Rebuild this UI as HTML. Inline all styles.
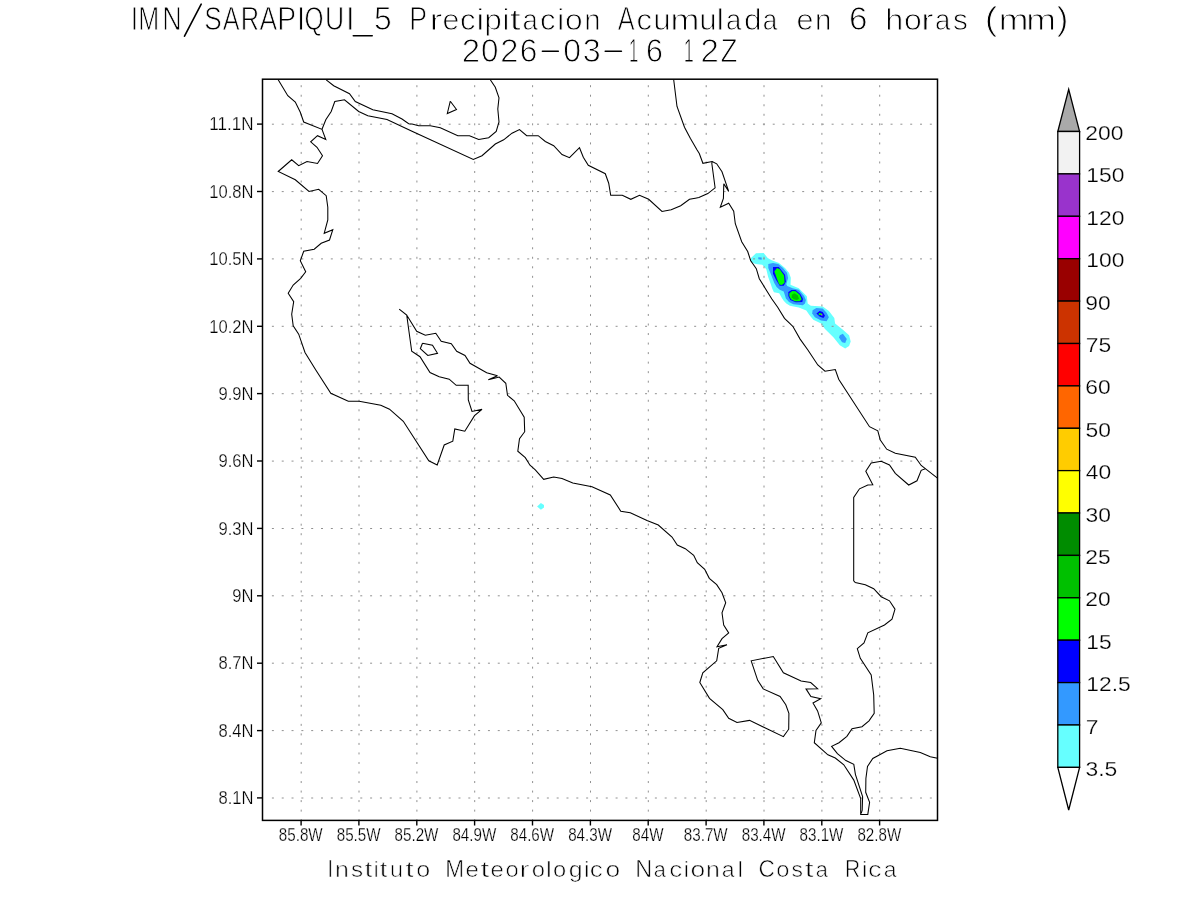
<!DOCTYPE html>
<html><head><meta charset="utf-8"><title>IMN SARAPIQUI</title>
<style>html,body{margin:0;padding:0;background:#fff;overflow:hidden}svg{display:block;will-change:transform}</style>
</head><body>
<svg width="1200" height="900" viewBox="0 0 1200 900">
<rect width="1200" height="900" fill="#fff"/>
<g stroke="none">
<polygon points="751.0,258.0 756.0,253.3 763.7,253.0 767.7,258.0 771.7,260.3 779.0,263.0 785.0,268.0 789.0,272.7 790.8,277.7 790.5,284.8 793.4,286.1 798.8,288.3 806.8,296.3 807.7,303.4 810.8,305.7 815.0,306.1 822.7,306.4 828.9,311.1 834.3,318.1 835.1,323.6 842.9,329.8 849.1,335.2 850.7,341.4 849.1,346.1 845.2,348.4 839.8,345.3 833.6,337.6 825.0,329.0 821.1,323.6 813.3,319.7 809.4,315.0 806.3,310.6 798.8,307.4 789.9,305.7 786.3,303.4 783.7,300.8 781.9,298.1 779.2,293.2 773.9,292.3 772.1,288.3 770.8,284.3 768.1,276.8 766.3,269.3 762.3,264.7 755.7,264.0 751.0,262.0" fill="#66ffff"/>
<polygon points="537.1,506.4 540.9,503.1 544.0,505.0 544.0,507.5 540.9,509.8" fill="#66ffff"/>
<polygon points="768.3,264.0 773.0,263.0 778.3,264.0 783.0,268.0 787.0,272.7 788.1,278.1 786.3,284.3 787.2,286.1 792.6,288.3 798.8,289.7 804.1,295.9 805.9,299.9 805.0,303.4 802.8,305.2 793.4,304.3 789.0,302.1 785.9,298.6 785.0,295.4 783.7,291.4 779.7,289.7 776.6,287.0 774.3,283.0 771.2,275.0 768.3,268.0" fill="#3399ff"/>
<polygon points="812.6,310.3 816.4,308.0 822.7,308.4 826.6,312.7 828.9,317.3 826.6,321.2 821.1,320.4 814.9,317.3 812.2,313.4" fill="#3399ff"/>
<polygon points="839.8,335.2 842.9,333.7 846.8,339.1 845.2,343.0 842.1,342.2 839.0,337.6" fill="#3399ff"/>
<polygon points="758.3,257.3 761.7,257.5 761.7,259.7 758.3,259.3" fill="#3399ff"/>
<polygon points="773.0,267.1 778.8,267.1 785.0,274.7 785.9,281.8 783.7,285.8 779.7,285.8 776.1,280.0 773.0,273.8" fill="#0000ff"/>
<polygon points="788.3,292.0 791.7,290.0 795.7,290.0 800.3,294.0 803.0,298.7 802.3,302.0 795.7,302.3 790.3,300.0 788.3,296.0" fill="#0000ff"/>
<polygon points="816.4,313.4 819.6,311.1 822.7,311.9 825.0,315.8 823.4,318.1 819.6,316.6" fill="#0000ff"/>
<polygon points="774.3,271.6 777.0,268.0 779.7,269.3 784.1,275.6 784.6,282.7 781.9,284.9 779.2,284.4 777.0,279.1 775.2,273.8" fill="#00ff00"/>
<polygon points="789.3,293.3 792.3,291.0 795.7,291.3 799.7,294.7 801.7,299.3 799.7,301.3 795.0,301.3 791.0,299.3 789.3,296.0" fill="#00ff00"/>
<polygon points="818.8,313.1 821.9,313.5 821.9,315.0 818.8,315.0" fill="#00ff00"/>
<polygon points="791.7,294.7 794.3,293.3 797.7,295.3 799.0,298.7 797.0,300.0 793.7,299.3 791.7,297.3" fill="#00c000"/>
</g>
<g stroke="#909090" stroke-width="1" fill="none"><line x1="301.2" y1="85.2" x2="301.2" y2="820" stroke-dasharray="2 7.532"/><line x1="359.0" y1="85.2" x2="359.0" y2="820" stroke-dasharray="2 7.532"/><line x1="416.9" y1="85.2" x2="416.9" y2="820" stroke-dasharray="2 7.532"/><line x1="474.7" y1="85.2" x2="474.7" y2="820" stroke-dasharray="2 7.532"/><line x1="532.6" y1="85.2" x2="532.6" y2="820" stroke-dasharray="2 7.532"/><line x1="590.5" y1="85.2" x2="590.5" y2="820" stroke-dasharray="2 7.532"/><line x1="648.3" y1="85.2" x2="648.3" y2="820" stroke-dasharray="2 7.532"/><line x1="706.2" y1="85.2" x2="706.2" y2="820" stroke-dasharray="2 7.532"/><line x1="764.0" y1="85.2" x2="764.0" y2="820" stroke-dasharray="2 7.532"/><line x1="821.9" y1="85.2" x2="821.9" y2="820" stroke-dasharray="2 7.532"/><line x1="879.7" y1="85.2" x2="879.7" y2="820" stroke-dasharray="2 7.532"/></g>
<g stroke="#909090" stroke-width="1" fill="none"><line x1="271.9" y1="798.0" x2="937" y2="798.0" stroke-dasharray="2 7.82"/><line x1="271.9" y1="730.6" x2="937" y2="730.6" stroke-dasharray="2 7.82"/><line x1="271.9" y1="663.2" x2="937" y2="663.2" stroke-dasharray="2 7.82"/><line x1="271.9" y1="595.8" x2="937" y2="595.8" stroke-dasharray="2 7.82"/><line x1="271.9" y1="528.5" x2="937" y2="528.5" stroke-dasharray="2 7.82"/><line x1="271.9" y1="461.1" x2="937" y2="461.1" stroke-dasharray="2 7.82"/><line x1="271.9" y1="393.7" x2="937" y2="393.7" stroke-dasharray="2 7.82"/><line x1="271.9" y1="326.3" x2="937" y2="326.3" stroke-dasharray="2 7.82"/><line x1="271.9" y1="258.9" x2="937" y2="258.9" stroke-dasharray="2 7.82"/><line x1="271.9" y1="191.6" x2="937" y2="191.6" stroke-dasharray="2 7.82"/><line x1="271.9" y1="124.2" x2="937" y2="124.2" stroke-dasharray="2 7.82"/></g>
<g stroke="#000" stroke-width="1.05" fill="none" stroke-linejoin="miter" stroke-miterlimit="3">
<polyline points="278.2,79.8 287.8,95.7 295.3,102.0 300.3,112.3 303.7,122.0 322.0,129.3 325.8,139.5 317.5,135.7 310.7,141.8 317.0,147.3 322.5,155.7 317.5,163.5 307.0,161.5 298.7,165.7 291.7,159.8 278.2,171.5 295.3,179.8 309.0,191.5 318.7,189.3 326.2,195.7 327.8,207.3 327.8,220.0 324.2,233.3 332.8,229.7 329.5,240.0 321.2,243.3 314.2,249.2 303.7,251.3 300.3,260.8 305.7,271.7 300.7,278.3 293.2,285.0 288.2,293.3 293.7,301.7 291.7,314.2 293.2,325.8 298.7,334.2 305.0,352.5 315.8,370.0 330.8,393.3 348.3,401.2 359.2,401.2 380.8,405.3 389.5,409.2 403.3,421.3 428.8,460.8 437.2,465.0 444.2,445.0 452.8,441.2 454.8,429.0 464.8,431.2 474.5,415.7 482.0,409.3 472.0,411.5 468.3,399.8 468.2,385.3 456.2,385.3 449.2,379.2 439.2,376.7 430.0,372.5 420.0,356.7 411.7,351.3 406.7,315.0 399.2,309.2 406.7,315.0 416.7,331.3 425.3,335.3 435.8,333.3 441.2,341.2 451.3,343.7 456.7,351.3 465.0,355.5 470.0,363.3 486.7,372.8 497.5,375.8 488.3,379.7 499.2,377.0 505.8,383.3 507.5,395.3 514.2,400.8 524.2,417.2 524.7,431.7 519.5,438.7 517.8,451.2 525.3,457.7 530.0,465.2 535.3,469.8 543.7,479.3 553.7,477.0 562.0,478.5 572.8,483.0 592.0,486.7 610.3,495.0 620.8,511.2 630.3,512.8 647.0,520.5 658.3,525.0 672.0,537.0 677.3,545.0 685.3,548.7 693.7,555.3 697.3,562.7 704.7,569.3 709.3,578.3 716.7,584.7 722.0,592.7 725.7,602.7 722.0,612.7 723.7,625.0 728.7,633.0 722.0,638.7 717.0,646.7 727.0,644.7 718.7,648.3 716.7,660.8 702.8,672.8 699.8,682.5 709.5,698.3 722.8,709.7 728.7,718.3 737.0,722.5 749.5,720.4 783.4,736.6 788.7,729.2 788.9,713.3 785.8,704.8 780.1,696.5 763.2,688.9 757.7,680.3 751.2,660.8 773.3,656.5 783.4,672.8 801.1,681.0 810.7,682.5 817.6,688.7 806.0,688.9 810.9,696.5 820.7,698.7 813.0,703.0 817.6,710.9 821.3,722.9 816.0,730.5 814.3,742.7 827.9,754.8 835.3,758.0 843.8,764.8 853.8,780.1 860.7,798.6 860.7,814.4 867.8,814.4 869.6,802.3 865.7,792.3 865.9,778.5 867.5,766.4 872.8,758.5 879.7,754.8 887.0,750.8 900.3,748.3 920.3,752.5 930.3,756.7 937.5,758.3" />
<polyline points="322.0,129.3 325.8,119.8 331.2,111.5 334.8,101.5 344.5,99.8 358.7,111.5 367.8,115.7 387.0,119.5 412.0,131.2 473.3,159.5 482.0,155.7 495.3,144.0 503.7,139.8 512.0,133.2 519.5,129.5 526.7,135.7 538.2,135.7 545.3,141.5 553.7,145.7 562.0,154.5 569.5,157.7 579.5,147.7 583.3,157.3 588.3,165.3 605.3,173.7 608.7,183.2 610.7,195.3 622.3,195.3 630.8,199.3 639.5,195.3 648.7,199.3 662.0,211.5 671.2,209.8 680.7,205.7 689.5,199.3 695.3,198.2 698.9,197.6 707.8,193.6 715.1,187.8 711.8,163.3 712.2,161.6" />
<polyline points="326.2,79.8 333.7,85.7 349.5,93.7 355.3,101.5 372.8,109.8 392.0,113.7 402.0,119.0 408.7,123.7 412.0,124.0 418.7,125.7 430.3,125.7 440.3,127.8 457.8,135.7 469.5,135.7 478.7,139.5 488.7,137.7 496.2,131.5 499.0,122.0 497.8,109.0 499.0,97.7 495.3,87.3 490.3,79.8" />
<polyline points="673.7,79.8 677.0,106.5 684.5,127.3 690.3,138.2 697.1,150.0 699.3,153.6 702.9,163.3 712.2,161.6 716.7,163.8 722.0,171.8 728.7,191.4 723.8,183.8 723.4,198.5 720.3,207.3 728.7,203.3 733.7,211.3 735.3,223.7 741.7,241.7 747.7,251.5 750.7,260.7 753.0,264.0 756.3,268.7 759.3,278.7 765.0,288.0 771.7,298.7 777.7,307.3 784.5,318.3 790.0,323.6 793.1,326.7 800.1,339.1 807.9,350.0 817.8,365.0 825.0,371.2 835.3,369.5 838.7,379.2 869.5,426.7 877.8,430.8 880.3,440.0 886.7,449.2 895.3,453.3 915.3,457.2 921.2,465.5 925.3,468.7 937.5,478.2" />
<polyline points="925.3,468.7 921.2,470.3 917.0,480.8 908.7,485.0 895.3,473.3 889.5,465.0 881.2,461.2 871.2,463.0 865.8,471.2 872.8,484.7 867.8,485.0 859.5,488.8 853.7,497.5 853.7,580.8 855.3,582.5 865.3,584.7 873.7,588.7 881.2,596.7 889.5,600.8 895.0,609.2 892.0,619.2 884.5,625.0 867.8,632.8 864.0,643.0 857.3,648.7 860.3,658.3 871.2,675.0 873.7,695.0 874.2,713.3 869.0,720.8 862.0,726.7 852.0,728.7 846.9,736.3 839.0,742.7 831.6,746.4 837.4,753.7 845.9,760.6 853.8,764.3 855.4,774.3 862.6,796.5 862.2,810.2 861.2,813.4" />
<polyline points="450.3,101.2 456.5,109.5 447.3,113.5 450.3,101.2" />
<polyline points="422.5,343.3 432.5,345.3 437.5,353.3 427.8,355.5 420.3,348.7 422.5,343.3" />
</g>
<rect x="262.5" y="79.2" width="675.0" height="741.2" fill="none" stroke="#000" stroke-width="1.5"/>
<g stroke="#000" stroke-width="1.4"><line x1="257" y1="797.9" x2="262.5" y2="797.9"/><line x1="301.1" y1="820.4" x2="301.1" y2="825.5"/><line x1="257" y1="730.6" x2="262.5" y2="730.6"/><line x1="358.9" y1="820.4" x2="358.9" y2="825.5"/><line x1="257" y1="663.2" x2="262.5" y2="663.2"/><line x1="416.8" y1="820.4" x2="416.8" y2="825.5"/><line x1="257" y1="595.8" x2="262.5" y2="595.8"/><line x1="474.6" y1="820.4" x2="474.6" y2="825.5"/><line x1="257" y1="528.4" x2="262.5" y2="528.4"/><line x1="532.5" y1="820.4" x2="532.5" y2="825.5"/><line x1="257" y1="461.0" x2="262.5" y2="461.0"/><line x1="590.4" y1="820.4" x2="590.4" y2="825.5"/><line x1="257" y1="393.6" x2="262.5" y2="393.6"/><line x1="648.2" y1="820.4" x2="648.2" y2="825.5"/><line x1="257" y1="326.3" x2="262.5" y2="326.3"/><line x1="706.1" y1="820.4" x2="706.1" y2="825.5"/><line x1="257" y1="258.9" x2="262.5" y2="258.9"/><line x1="763.9" y1="820.4" x2="763.9" y2="825.5"/><line x1="257" y1="191.5" x2="262.5" y2="191.5"/><line x1="821.8" y1="820.4" x2="821.8" y2="825.5"/><line x1="257" y1="124.1" x2="262.5" y2="124.1"/><line x1="879.6" y1="820.4" x2="879.6" y2="825.5"/></g>
<g font-family="&quot;Liberation Sans&quot;, sans-serif" fill="#000" stroke="#fff" stroke-width="0.25"><text x="218.55" y="804.24" font-size="17.44" textLength="35.00" lengthAdjust="spacingAndGlyphs">8.1N</text><text x="218.55" y="736.86" font-size="17.44" textLength="35.00" lengthAdjust="spacingAndGlyphs">8.4N</text><text x="218.55" y="669.48" font-size="17.44" textLength="35.00" lengthAdjust="spacingAndGlyphs">8.7N</text><text x="232.37" y="602.09" font-size="17.44" textLength="21.18" lengthAdjust="spacingAndGlyphs">9N</text><text x="218.55" y="534.71" font-size="17.44" textLength="35.00" lengthAdjust="spacingAndGlyphs">9.3N</text><text x="218.55" y="467.33" font-size="17.44" textLength="35.00" lengthAdjust="spacingAndGlyphs">9.6N</text><text x="218.55" y="399.95" font-size="17.44" textLength="35.00" lengthAdjust="spacingAndGlyphs">9.9N</text><text x="209.34" y="332.57" font-size="17.44" textLength="44.22" lengthAdjust="spacingAndGlyphs">10.2N</text><text x="209.34" y="265.18" font-size="17.44" textLength="44.22" lengthAdjust="spacingAndGlyphs">10.5N</text><text x="209.34" y="197.80" font-size="17.44" textLength="44.22" lengthAdjust="spacingAndGlyphs">10.8N</text><text x="209.34" y="130.42" font-size="17.44" textLength="44.22" lengthAdjust="spacingAndGlyphs">11.1N</text><text x="278.84" y="840.50" font-size="17.44" textLength="43.86" lengthAdjust="spacingAndGlyphs">85.8W</text><text x="336.70" y="840.50" font-size="17.44" textLength="43.86" lengthAdjust="spacingAndGlyphs">85.5W</text><text x="394.55" y="840.50" font-size="17.44" textLength="43.86" lengthAdjust="spacingAndGlyphs">85.2W</text><text x="452.41" y="840.50" font-size="17.44" textLength="43.86" lengthAdjust="spacingAndGlyphs">84.9W</text><text x="510.27" y="840.50" font-size="17.44" textLength="43.86" lengthAdjust="spacingAndGlyphs">84.6W</text><text x="568.13" y="840.50" font-size="17.44" textLength="43.86" lengthAdjust="spacingAndGlyphs">84.3W</text><text x="632.31" y="840.50" font-size="17.44" textLength="31.20" lengthAdjust="spacingAndGlyphs">84W</text><text x="683.84" y="840.50" font-size="17.44" textLength="43.86" lengthAdjust="spacingAndGlyphs">83.7W</text><text x="741.70" y="840.50" font-size="17.44" textLength="43.86" lengthAdjust="spacingAndGlyphs">83.4W</text><text x="799.55" y="840.50" font-size="17.44" textLength="43.86" lengthAdjust="spacingAndGlyphs">83.1W</text><text x="857.41" y="840.50" font-size="17.44" textLength="43.86" lengthAdjust="spacingAndGlyphs">82.8W</text></g>
<g font-family="&quot;Liberation Sans&quot;, sans-serif" fill="#000" stroke="#fff" stroke-width="0.90"><text x="130.78" y="30.00" font-size="32.70" textLength="7.45" lengthAdjust="spacingAndGlyphs">I</text><text x="138.29" y="30.00" font-size="32.70" textLength="20.92" lengthAdjust="spacingAndGlyphs">M</text><text x="162.33" y="30.00" font-size="32.70" textLength="19.52" lengthAdjust="spacingAndGlyphs">N</text><text x="204.16" y="30.00" font-size="32.70" textLength="17.49" lengthAdjust="spacingAndGlyphs">S</text><text x="222.80" y="30.00" font-size="32.70" textLength="16.90" lengthAdjust="spacingAndGlyphs">A</text><text x="240.76" y="30.00" font-size="32.70" textLength="18.37" lengthAdjust="spacingAndGlyphs">R</text><text x="259.50" y="30.00" font-size="32.70" textLength="17.70" lengthAdjust="spacingAndGlyphs">A</text><text x="277.22" y="30.00" font-size="32.70" textLength="18.92" lengthAdjust="spacingAndGlyphs">P</text><text x="296.68" y="30.00" font-size="32.70" textLength="8.64" lengthAdjust="spacingAndGlyphs">I</text><text x="304.59" y="30.00" font-size="32.70" textLength="19.03" lengthAdjust="spacingAndGlyphs">Q</text><text x="325.00" y="30.00" font-size="32.70" textLength="19.20" lengthAdjust="spacingAndGlyphs">U</text><text x="345.88" y="30.00" font-size="32.70" textLength="8.64" lengthAdjust="spacingAndGlyphs">I</text><text x="374.07" y="30.00" font-size="32.70" textLength="17.71" lengthAdjust="spacingAndGlyphs">5</text><text x="409.36" y="30.00" font-size="32.70" textLength="17.80" lengthAdjust="spacingAndGlyphs">P</text><text x="429.47" y="30.00" font-size="29.55" textLength="12.92" lengthAdjust="spacingAndGlyphs">r</text><text x="442.46" y="30.00" font-size="29.55" textLength="16.83" lengthAdjust="spacingAndGlyphs">e</text><text x="459.93" y="30.00" font-size="29.55" textLength="15.54" lengthAdjust="spacingAndGlyphs">c</text><text x="476.31" y="30.00" font-size="29.55" textLength="8.09" lengthAdjust="spacingAndGlyphs">i</text><text x="484.21" y="30.00" font-size="29.55" textLength="17.56" lengthAdjust="spacingAndGlyphs">p</text><text x="502.34" y="30.00" font-size="29.55" textLength="7.33" lengthAdjust="spacingAndGlyphs">i</text><text x="509.75" y="30.00" font-size="29.55" textLength="10.99" lengthAdjust="spacingAndGlyphs">t</text><text x="522.58" y="30.00" font-size="29.55" textLength="15.37" lengthAdjust="spacingAndGlyphs">a</text><text x="539.93" y="30.00" font-size="29.55" textLength="15.54" lengthAdjust="spacingAndGlyphs">c</text><text x="557.04" y="30.00" font-size="29.55" textLength="7.33" lengthAdjust="spacingAndGlyphs">i</text><text x="564.92" y="30.00" font-size="29.55" textLength="17.67" lengthAdjust="spacingAndGlyphs">o</text><text x="584.30" y="30.00" font-size="29.55" textLength="16.36" lengthAdjust="spacingAndGlyphs">n</text><text x="617.80" y="30.00" font-size="32.70" textLength="16.90" lengthAdjust="spacingAndGlyphs">A</text><text x="636.53" y="30.00" font-size="29.55" textLength="15.54" lengthAdjust="spacingAndGlyphs">c</text><text x="653.30" y="30.00" font-size="29.55" textLength="17.54" lengthAdjust="spacingAndGlyphs">u</text><text x="670.55" y="30.00" font-size="29.55" textLength="28.89" lengthAdjust="spacingAndGlyphs">m</text><text x="699.20" y="30.00" font-size="29.55" textLength="17.54" lengthAdjust="spacingAndGlyphs">u</text><text x="716.45" y="30.00" font-size="29.55" textLength="7.58" lengthAdjust="spacingAndGlyphs">l</text><text x="725.88" y="30.00" font-size="29.55" textLength="15.37" lengthAdjust="spacingAndGlyphs">a</text><text x="744.01" y="30.00" font-size="29.55" textLength="17.68" lengthAdjust="spacingAndGlyphs">d</text><text x="762.64" y="30.00" font-size="29.55" textLength="14.51" lengthAdjust="spacingAndGlyphs">a</text><text x="796.56" y="30.00" font-size="29.55" textLength="16.95" lengthAdjust="spacingAndGlyphs">e</text><text x="815.08" y="30.00" font-size="29.55" textLength="16.50" lengthAdjust="spacingAndGlyphs">n</text><text x="849.07" y="30.00" font-size="32.70" textLength="18.44" lengthAdjust="spacingAndGlyphs">6</text><text x="885.30" y="30.00" font-size="29.55" textLength="18.06" lengthAdjust="spacingAndGlyphs">h</text><text x="904.01" y="30.00" font-size="29.55" textLength="17.79" lengthAdjust="spacingAndGlyphs">o</text><text x="921.31" y="30.00" font-size="29.55" textLength="12.25" lengthAdjust="spacingAndGlyphs">r</text><text x="935.08" y="30.00" font-size="29.55" textLength="15.37" lengthAdjust="spacingAndGlyphs">a</text><text x="952.92" y="30.00" font-size="29.55" textLength="14.91" lengthAdjust="spacingAndGlyphs">s</text><text x="984.69" y="30.00" font-size="32.70" textLength="12.69" lengthAdjust="spacingAndGlyphs">(</text><text x="998.88" y="30.00" font-size="29.55" textLength="29.72" lengthAdjust="spacingAndGlyphs">m</text><text x="1026.38" y="30.00" font-size="29.55" textLength="29.72" lengthAdjust="spacingAndGlyphs">m</text><text x="1056.85" y="30.00" font-size="32.70" textLength="11.56" lengthAdjust="spacingAndGlyphs">)</text><text x="461.89" y="61.90" font-size="32.70" textLength="18.31" lengthAdjust="spacingAndGlyphs">2</text><text x="481.12" y="61.90" font-size="32.70" textLength="17.45" lengthAdjust="spacingAndGlyphs">0</text><text x="500.21" y="61.90" font-size="32.70" textLength="18.19" lengthAdjust="spacingAndGlyphs">2</text><text x="519.84" y="61.90" font-size="32.70" textLength="17.60" lengthAdjust="spacingAndGlyphs">6</text><text x="563.30" y="61.90" font-size="32.70" textLength="17.80" lengthAdjust="spacingAndGlyphs">0</text><text x="582.72" y="61.90" font-size="32.70" textLength="17.95" lengthAdjust="spacingAndGlyphs">3</text><text x="628.88" y="61.90" font-size="32.70" textLength="9.29" lengthAdjust="spacingAndGlyphs">1</text><text x="646.10" y="61.90" font-size="32.70" textLength="16.93" lengthAdjust="spacingAndGlyphs">6</text><text x="683.77" y="61.90" font-size="32.70" textLength="10.06" lengthAdjust="spacingAndGlyphs">1</text><text x="700.64" y="61.90" font-size="32.70" textLength="18.37" lengthAdjust="spacingAndGlyphs">2</text><text x="720.57" y="61.90" font-size="32.70" textLength="17.00" lengthAdjust="spacingAndGlyphs">Z</text></g>
<g font-family="&quot;Liberation Sans&quot;, sans-serif" fill="#000" stroke="#fff" stroke-width="0.60"><text x="327.62" y="876.50" font-size="23.98" textLength="5.51" lengthAdjust="spacingAndGlyphs">I</text><text x="334.94" y="876.50" font-size="21.59" textLength="13.88" lengthAdjust="spacingAndGlyphs">n</text><text x="350.92" y="876.50" font-size="21.59" textLength="12.15" lengthAdjust="spacingAndGlyphs">s</text><text x="364.89" y="876.50" font-size="21.59" textLength="7.51" lengthAdjust="spacingAndGlyphs">t</text><text x="373.85" y="876.50" font-size="21.59" textLength="4.80" lengthAdjust="spacingAndGlyphs">i</text><text x="379.89" y="876.50" font-size="21.59" textLength="7.51" lengthAdjust="spacingAndGlyphs">t</text><text x="390.08" y="876.50" font-size="21.59" textLength="13.03" lengthAdjust="spacingAndGlyphs">u</text><text x="405.51" y="876.50" font-size="21.59" textLength="8.11" lengthAdjust="spacingAndGlyphs">t</text><text x="416.15" y="876.50" font-size="21.59" textLength="13.96" lengthAdjust="spacingAndGlyphs">o</text><text x="445.35" y="876.50" font-size="23.98" textLength="18.80" lengthAdjust="spacingAndGlyphs">M</text><text x="465.59" y="876.50" font-size="21.59" textLength="13.27" lengthAdjust="spacingAndGlyphs">e</text><text x="480.47" y="876.50" font-size="21.59" textLength="8.81" lengthAdjust="spacingAndGlyphs">t</text><text x="490.59" y="876.50" font-size="21.59" textLength="13.27" lengthAdjust="spacingAndGlyphs">e</text><text x="505.60" y="876.50" font-size="21.59" textLength="13.19" lengthAdjust="spacingAndGlyphs">o</text><text x="519.62" y="876.50" font-size="21.59" textLength="9.92" lengthAdjust="spacingAndGlyphs">r</text><text x="531.80" y="876.50" font-size="21.59" textLength="13.25" lengthAdjust="spacingAndGlyphs">o</text><text x="546.08" y="876.50" font-size="21.59" textLength="5.69" lengthAdjust="spacingAndGlyphs">l</text><text x="553.10" y="876.50" font-size="21.59" textLength="13.19" lengthAdjust="spacingAndGlyphs">o</text><text x="568.65" y="876.50" font-size="21.59" textLength="13.85" lengthAdjust="spacingAndGlyphs">g</text><text x="583.40" y="876.50" font-size="21.59" textLength="6.32" lengthAdjust="spacingAndGlyphs">i</text><text x="589.84" y="876.50" font-size="21.59" textLength="13.05" lengthAdjust="spacingAndGlyphs">c</text><text x="605.49" y="876.50" font-size="21.59" textLength="14.66" lengthAdjust="spacingAndGlyphs">o</text><text x="635.28" y="876.50" font-size="23.98" textLength="16.94" lengthAdjust="spacingAndGlyphs">N</text><text x="653.77" y="876.50" font-size="21.59" textLength="12.13" lengthAdjust="spacingAndGlyphs">a</text><text x="669.19" y="876.50" font-size="21.59" textLength="13.05" lengthAdjust="spacingAndGlyphs">c</text><text x="683.59" y="876.50" font-size="21.59" textLength="5.69" lengthAdjust="spacingAndGlyphs">i</text><text x="690.49" y="876.50" font-size="21.59" textLength="14.66" lengthAdjust="spacingAndGlyphs">o</text><text x="706.14" y="876.50" font-size="21.59" textLength="13.88" lengthAdjust="spacingAndGlyphs">n</text><text x="721.82" y="876.50" font-size="21.59" textLength="12.88" lengthAdjust="spacingAndGlyphs">a</text><text x="737.41" y="876.50" font-size="21.59" textLength="5.56" lengthAdjust="spacingAndGlyphs">l</text><text x="758.55" y="876.50" font-size="23.98" textLength="16.36" lengthAdjust="spacingAndGlyphs">C</text><text x="776.20" y="876.50" font-size="21.59" textLength="13.19" lengthAdjust="spacingAndGlyphs">o</text><text x="791.56" y="876.50" font-size="21.59" textLength="11.47" lengthAdjust="spacingAndGlyphs">s</text><text x="804.82" y="876.50" font-size="21.59" textLength="8.81" lengthAdjust="spacingAndGlyphs">t</text><text x="815.67" y="876.50" font-size="21.59" textLength="12.13" lengthAdjust="spacingAndGlyphs">a</text><text x="844.88" y="876.50" font-size="23.98" textLength="15.14" lengthAdjust="spacingAndGlyphs">R</text><text x="861.59" y="876.50" font-size="21.59" textLength="6.19" lengthAdjust="spacingAndGlyphs">i</text><text x="867.94" y="876.50" font-size="21.59" textLength="13.68" lengthAdjust="spacingAndGlyphs">c</text><text x="883.72" y="876.50" font-size="21.59" textLength="12.83" lengthAdjust="spacingAndGlyphs">a</text></g>
<g stroke="#000" stroke-width="1.6" stroke-linecap="round"><line x1="184.50" y1="36.2" x2="201.20" y2="4.2"/><line x1="353.30" y1="35.8" x2="372.20" y2="35.8"/><line x1="542.40" y1="51.25" x2="558.30" y2="51.25"/><line x1="605.25" y1="51.25" x2="621.40" y2="51.25"/></g>
<g stroke="#000" stroke-width="1.3" stroke-linejoin="miter"><polygon points="1057.8,131.5 1068.7,89.3 1079.6,131.5" fill="#a9a9a9"/><rect x="1057.8" y="131.5" width="21.8" height="42.39" fill="#f2f2f2"/><rect x="1057.8" y="173.9" width="21.8" height="42.39" fill="#9933cc"/><rect x="1057.8" y="216.3" width="21.8" height="42.39" fill="#ff00ff"/><rect x="1057.8" y="258.7" width="21.8" height="42.39" fill="#990000"/><rect x="1057.8" y="301.1" width="21.8" height="42.39" fill="#cc3300"/><rect x="1057.8" y="343.5" width="21.8" height="42.39" fill="#ff0000"/><rect x="1057.8" y="385.9" width="21.8" height="42.39" fill="#ff6600"/><rect x="1057.8" y="428.3" width="21.8" height="42.39" fill="#ffcc00"/><rect x="1057.8" y="470.6" width="21.8" height="42.39" fill="#ffff00"/><rect x="1057.8" y="513.0" width="21.8" height="42.39" fill="#008c00"/><rect x="1057.8" y="555.4" width="21.8" height="42.39" fill="#00c000"/><rect x="1057.8" y="597.8" width="21.8" height="42.39" fill="#00ff00"/><rect x="1057.8" y="640.2" width="21.8" height="42.39" fill="#0000ff"/><rect x="1057.8" y="682.6" width="21.8" height="42.39" fill="#3399ff"/><rect x="1057.8" y="725.0" width="21.8" height="42.39" fill="#66ffff"/><polygon points="1057.8,767.4 1068.7,810 1079.6,767.4" fill="#fff"/></g>
<g font-family="&quot;Liberation Sans&quot;, sans-serif" fill="#000" stroke="#fff" stroke-width="0.25"><text x="1085.25" y="140.00" font-size="20.06" textLength="38.15" lengthAdjust="spacingAndGlyphs">200</text><text x="1086.26" y="182.39" font-size="20.06" textLength="38.15" lengthAdjust="spacingAndGlyphs">150</text><text x="1086.26" y="224.79" font-size="20.06" textLength="38.15" lengthAdjust="spacingAndGlyphs">120</text><text x="1086.26" y="267.18" font-size="20.06" textLength="38.15" lengthAdjust="spacingAndGlyphs">100</text><text x="1085.33" y="309.57" font-size="20.06" textLength="25.43" lengthAdjust="spacingAndGlyphs">90</text><text x="1085.83" y="351.97" font-size="20.06" textLength="25.43" lengthAdjust="spacingAndGlyphs">75</text><text x="1085.24" y="394.36" font-size="20.06" textLength="25.43" lengthAdjust="spacingAndGlyphs">60</text><text x="1085.48" y="436.75" font-size="20.06" textLength="25.43" lengthAdjust="spacingAndGlyphs">50</text><text x="1085.88" y="479.15" font-size="20.06" textLength="25.43" lengthAdjust="spacingAndGlyphs">40</text><text x="1085.53" y="521.54" font-size="20.06" textLength="25.43" lengthAdjust="spacingAndGlyphs">30</text><text x="1085.25" y="563.93" font-size="20.06" textLength="25.43" lengthAdjust="spacingAndGlyphs">25</text><text x="1085.25" y="606.33" font-size="20.06" textLength="25.43" lengthAdjust="spacingAndGlyphs">20</text><text x="1086.26" y="648.72" font-size="20.06" textLength="25.43" lengthAdjust="spacingAndGlyphs">15</text><text x="1086.26" y="691.11" font-size="20.06" textLength="44.50" lengthAdjust="spacingAndGlyphs">12.5</text><text x="1085.83" y="733.51" font-size="20.06" textLength="12.72" lengthAdjust="spacingAndGlyphs">7</text><text x="1085.53" y="775.90" font-size="20.06" textLength="31.79" lengthAdjust="spacingAndGlyphs">3.5</text></g>
</svg>
</body></html>
